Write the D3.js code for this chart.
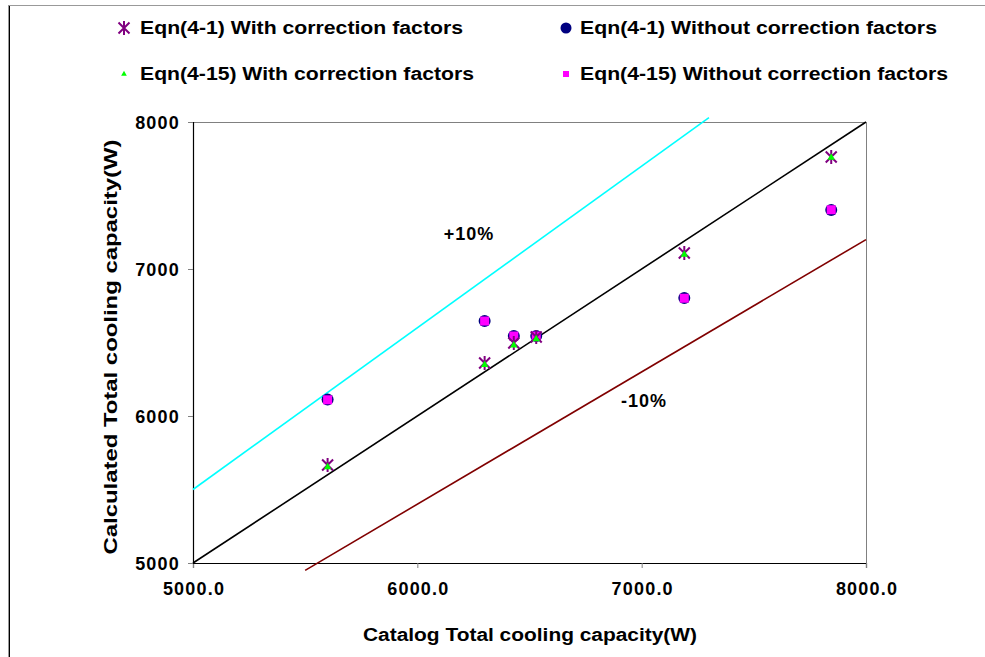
<!DOCTYPE html>
<html>
<head>
<meta charset="utf-8">
<script src="https://d3js.org/d3.v7.min.js"></script>
<style>
  body { margin: 0; background: #fff; }
  text { font-family: "Liberation Sans", Arial, sans-serif; font-weight: bold; fill: #000; }
</style>
</head>
<body>
<div id="chart"></div>
<script>

// catalog capacity (x) for each unit
let catalog = [5600, 6300, 6430, 6530, 7190, 7845];

// Eqn(4-1) / Eqn(4-15) calculated capacity
let eq1With = [5667, 6361, 6497, 6537, 7109, 7762];
let eq1Without = [6113, 6646, 6544, 6544, 6803, 7401];
let eq15With = [5660, 6355, 6487, 6530, 7105, 7765];
let eq15Without = [6110, 6646, 6544, 6544, 6801, 7403];

// reference lines (x, y pairs)
let lineExact = [[5000, 5000], [8000, 8000]];
let linePlus10 = [[5000, 5500], [7300, 8030]];
let lineMinus10 = [[5500, 4950], [8000, 7200]];

let xTicks = [5000, 6000, 7000, 8000];
let yTicks = [5000, 6000, 7000, 8000];

let legendNames = [
  'Eqn(4-1) With correction factors',
  'Eqn(4-1) Without correction factors',
  'Eqn(4-15) With correction factors',
  'Eqn(4-15) Without correction factors'
];

function draw() {

  let W = 985, H = 657;
  let margin = { top: 122, right: 119, bottom: 94, left: 193 };
  let width = W - margin.left - margin.right;
  let height = H - margin.top - margin.bottom;

  let svg = d3.select('#chart').append('svg')
    .attr('width', W)
    .attr('height', H);

  // outer chart frame
  svg.append('line').attr('x1', 8).attr('x2', W).attr('y1', 5.5).attr('y2', 5.5)
    .attr('stroke', '#999').attr('stroke-width', 1);
  svg.append('line').attr('x1', 8.5).attr('x2', 8.5).attr('y1', 6).attr('y2', H)
    .attr('stroke', '#999').attr('stroke-width', 1);
  svg.append('line').attr('x1', 9.5).attr('x2', 9.5).attr('y1', 6).attr('y2', H)
    .attr('stroke', '#000').attr('stroke-width', 1);

  let g = svg.append('g')
    .attr('transform', 'translate(' + margin.left + ',' + margin.top + ')');

  let x = d3.scaleLinear().domain([5000, 8000]).range([0, width]);
  let y = d3.scaleLinear().domain([5000, 8000]).range([height, 0]);

  // plot area border (top/right grey)
  g.append('path')
    .attr('d', 'M0,0.5H' + (width + 0.5) + 'V' + height)
    .attr('fill', 'none').attr('stroke', '#808080');

  // axes
  let xAxis = g.append('g')
    .attr('transform', 'translate(0,' + height + ')')
    .call(d3.axisBottom(x).tickValues(xTicks).tickSize(5).tickPadding(14)
      .tickFormat(d3.format('.1f')));
  let yAxis = g.append('g')
    .call(d3.axisLeft(y).tickValues(yTicks).tickSize(5).tickPadding(10)
      .tickFormat(d3.format('d')));

  [xAxis, yAxis].forEach(function (ax) {
    ax.select('.domain').attr('stroke', '#000').attr('stroke-width', 1.2);
    ax.selectAll('.tick line').attr('stroke', '#808080');
    ax.selectAll('.tick text')
      .style('font-size', '18px')
      .style('letter-spacing', '1.2px')
      .style('font-family', '"Liberation Sans", Arial, sans-serif')
      .style('font-weight', 'bold')
      .attr('fill', '#000');
  });
  yAxis.selectAll('.tick text').attr('dy', '0.36em').attr('x', -13);
  xAxis.selectAll('.tick text').attr('dx', '0.5px');

  // reference lines
  let line = d3.line()
    .x(function (d) { return x(d[0]); })
    .y(function (d) { return y(d[1]); });

  g.append('path').datum(lineExact).attr('d', line)
    .attr('fill', 'none').attr('stroke', '#000').attr('stroke-width', 1.6);
  g.append('path').datum(linePlus10).attr('d', line)
    .attr('fill', 'none').attr('stroke', '#00FFFF').attr('stroke-width', 1.6);
  g.append('path').datum(lineMinus10).attr('d', line)
    .attr('fill', 'none').attr('stroke', '#800000').attr('stroke-width', 1.6);

  g.append('text').attr('x', x(6230)).attr('y', y(7200))
    .attr('text-anchor', 'middle').style('font-size', '18px')
    .style('letter-spacing', '1px').text('+10%');
  g.append('text').attr('x', x(7010)).attr('y', y(6060))
    .attr('text-anchor', 'middle').style('font-size', '18px')
    .style('letter-spacing', '1px').text('-10%');

  // markers
  let starPath = 'M-5.5,-5.5L5.5,5.5M-5.5,5.5L5.5,-5.5M0,-7V7';
  let symTri = d3.symbol().type(d3.symbolTriangle).size(24)();

  function pts(ys) {
    return catalog.map(function (c, i) { return [c, ys[i]]; });
  }

  g.selectAll('.s1').data(pts(eq1Without)).enter().append('circle')
    .attr('cx', function (d) { return x(d[0]); })
    .attr('cy', function (d) { return y(d[1]); })
    .attr('r', 6)
    .attr('fill', '#000080');

  g.selectAll('.s2').data(pts(eq15Without)).enter().append('rect')
    .attr('x', function (d) { return x(d[0]) - 4.5; })
    .attr('y', function (d) { return y(d[1]) - 4.5; })
    .attr('width', 9).attr('height', 9)
    .attr('fill', '#FF00FF');

  g.selectAll('.s3').data(pts(eq1With)).enter().append('path')
    .attr('transform', function (d) { return 'translate(' + x(d[0]) + ',' + y(d[1]) + ')'; })
    .attr('d', starPath)
    .attr('stroke', '#800080').attr('stroke-width', 2).attr('fill', 'none');

  g.selectAll('.s4').data(pts(eq15With)).enter().append('path')
    .attr('transform', function (d) { return 'translate(' + x(d[0]) + ',' + (y(d[1]) + 1) + ')'; })
    .attr('d', symTri)
    .attr('fill', '#00FF00');

  // axis titles
  svg.append('text')
    .attr('x', 530).attr('y', 641)
    .attr('text-anchor', 'middle').style('font-size', '18px')
    .attr('textLength', 334).attr('lengthAdjust', 'spacingAndGlyphs')
    .text('Catalog Total cooling capacity(W)');
  svg.append('text')
    .attr('transform', 'translate(117,347) rotate(-90)')
    .attr('text-anchor', 'middle').style('font-size', '18px')
    .attr('textLength', 415).attr('lengthAdjust', 'spacingAndGlyphs')
    .text('Calculated Total cooling capacity(W)');

  // legend
  let legendPos = [[124, 28], [566, 28], [124, 74], [566, 74]];
  let legendWidths = [323, 357, 334, 368];
  let leg = svg.append('g');
  legendPos.forEach(function (p, i) {
    let item = leg.append('g').attr('transform', 'translate(' + p[0] + ',' + p[1] + ')');
    if (i === 0) {
      item.append('path').attr('d', starPath)
        .attr('stroke', '#800080').attr('stroke-width', 2).attr('fill', 'none');
    } else if (i === 1) {
      item.append('circle').attr('r', 5.5).attr('fill', '#000080');
    } else if (i === 2) {
      item.append('path').attr('d', d3.symbol().type(d3.symbolTriangle).size(14)())
        .attr('fill', '#00FF00');
    } else {
      item.append('rect').attr('x', -3).attr('y', -3).attr('width', 6).attr('height', 6)
        .attr('fill', '#FF00FF');
    }
    item.append('text').attr('x', i % 2 === 0 ? 16 : 14).attr('y', 0).attr('dy', '0.35em')
      .style('font-size', '18px')
      .attr('textLength', legendWidths[i]).attr('lengthAdjust', 'spacingAndGlyphs')
      .text(legendNames[i]);
  });
}

draw();
</script>
</body>
</html>
